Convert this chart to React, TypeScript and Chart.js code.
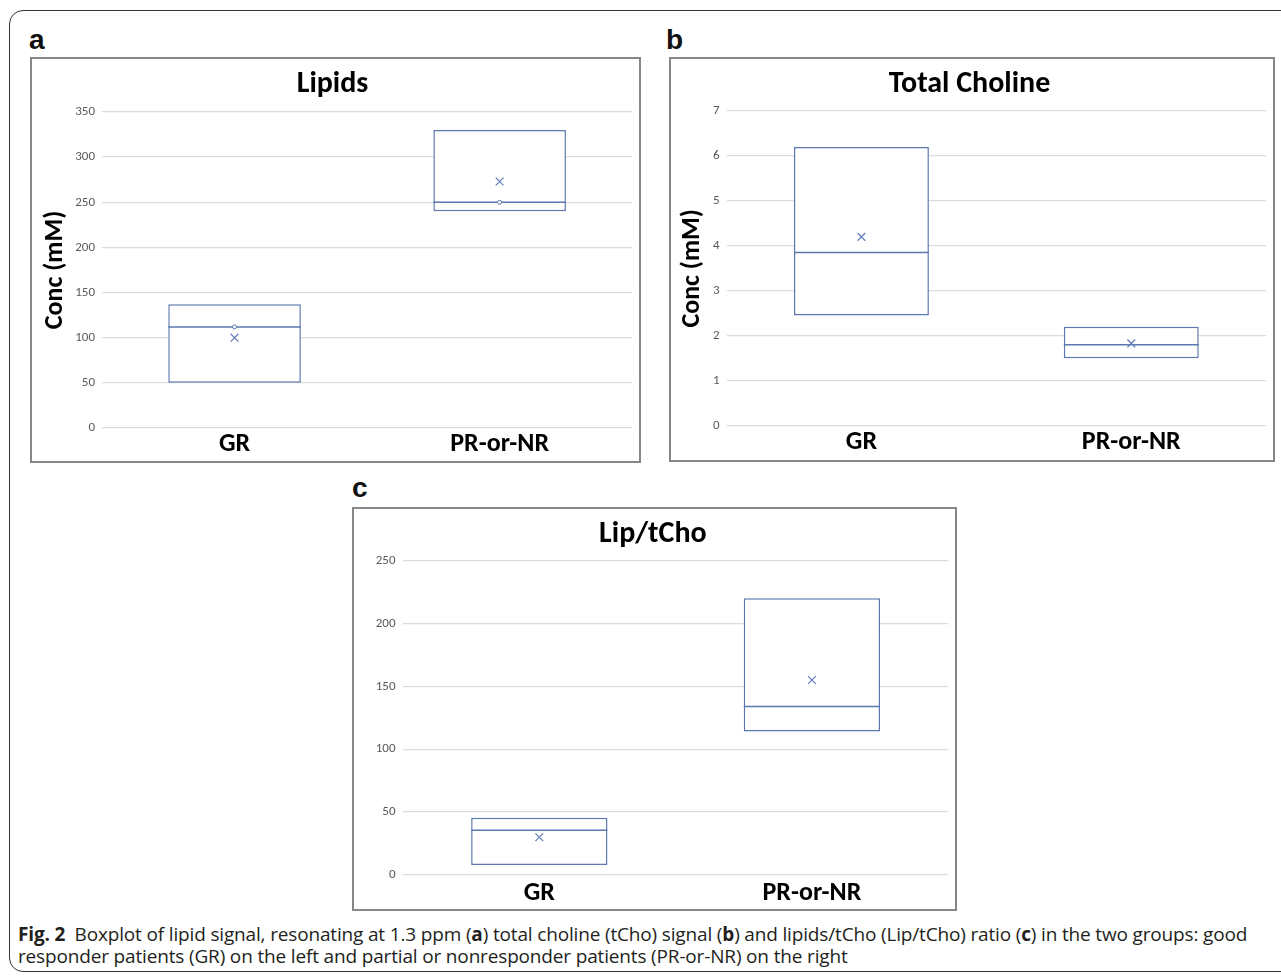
import React, { useEffect, useRef } from 'react';
import { Chart, registerables } from 'chart.js';
Chart.register(...registerables);

// ---------- data ----------
const categories = ['GR', 'PR-or-NR'];

// Panel a: Lipids
const lipidsQ1 = [50, 240];
const lipidsQ3 = [137, 330];
const lipidsMedian = [112, 250];
const lipidsMean = [100, 273];
const lipidsMax = 350;
const lipidsStep = 50;

// Panel b: Total Choline
const cholineQ1 = [2.45, 1.5];
const cholineQ3 = [6.2, 2.2];
const cholineMedian = [3.85, 1.8];
const cholineMean = [4.2, 1.83];
const cholineMax = 7;
const cholineStep = 1;

// Panel c: Lip/tCho
const ratioQ1 = [8, 114];
const ratioQ3 = [45.5, 220];
const ratioMedian = [35.5, 134];
const ratioMean = [30, 155];
const ratioMax = 250;
const ratioStep = 50;

const FONT = "Carlito, 'Open Sans', sans-serif";
const BOX_COLOR = '#5b77ae';
const MEAN_COLOR = '#6580bb';

const medianPlugin = {
  id: 'medianLines',
  afterDatasetDraw(chart: any, args: any, opts: any) {
    if (!opts || !opts.medians || args.meta.type !== 'bar') return;
    const ctx = chart.ctx;
    const yScale = chart.scales.y;
    ctx.save();
    ctx.strokeStyle = opts.color;
    ctx.lineWidth = opts.width;
    args.meta.data.forEach((bar: any, i: number) => {
      const { x, width } = bar.getProps(['x', 'width'], true);
      const py = yScale.getPixelForValue(opts.medians[i]);
      ctx.beginPath();
      ctx.moveTo(x - width / 2, py);
      ctx.lineTo(x + width / 2, py);
      ctx.stroke();
    });
    ctx.restore();
  },
};

type Geo = {
  left: number; top: number; width: number; height: number;
  yAxisW: number; padRight: number; titlePadTop: number; titlePadBottom: number;
  xAxisH: number; xTickPad: number; yTickPad: number; yTitlePad: number;
};

function BoxPanel(props: {
  title: string; q1: number[]; q3: number[]; median: number[]; mean: number[];
  max: number; step: number; yTitle?: string; medianDots?: boolean; geo: Geo;
}) {
  const ref = useRef<HTMLCanvasElement>(null);
  const { geo } = props;
  useEffect(() => {
    if (!ref.current) return;
    const datasets: any[] = [
      {
        type: 'line',
        data: props.mean,
        showLine: false,
        pointStyle: 'crossRot',
        pointRadius: 5.5,
        borderColor: MEAN_COLOR,
        backgroundColor: MEAN_COLOR,
        pointBorderWidth: 1.3,
        order: 1,
      },
      {
        type: 'bar',
        data: categories.map((_, i) => [props.q1[i], props.q3[i]]),
        backgroundColor: '#ffffff',
        borderColor: BOX_COLOR,
        borderWidth: 1.5,
        borderSkipped: false,
        barPercentage: 1,
        categoryPercentage: 0.5,
        order: 3,
      },
    ];
    if (props.medianDots) {
      datasets.unshift({
        type: 'line',
        data: props.median,
        showLine: false,
        pointStyle: 'circle',
        pointRadius: 2,
        borderColor: BOX_COLOR,
        backgroundColor: '#ffffff',
        pointBorderWidth: 1,
        order: 0,
      });
    }
    const chart = new Chart(ref.current, {
      type: 'bar',
      data: { labels: categories, datasets },
      plugins: [medianPlugin],
      options: {
        animation: false,
        responsive: true,
        maintainAspectRatio: false,
        layout: { padding: { left: 0, right: geo.padRight, top: 0, bottom: 0 } },
        plugins: {
          legend: { display: false },
          tooltip: { enabled: false },
          title: {
            display: true,
            text: props.title,
            color: '#000000',
            font: { family: FONT, size: 30, weight: 'bold' },
            padding: { top: geo.titlePadTop, bottom: geo.titlePadBottom },
          },
          medianLines: { medians: props.median, color: BOX_COLOR, width: 1.5 },
        } as any,
        scales: {
          x: {
            grid: { display: false, drawTicks: false },
            border: { display: false },
            ticks: {
              color: '#000000',
              font: { family: FONT, size: 26, weight: 'bold' },
              padding: geo.xTickPad,
            },
            afterFit: (s: any) => { s.height = geo.xAxisH; },
          },
          y: {
            min: 0,
            max: props.max,
            ticks: {
              stepSize: props.step,
              color: '#595959',
              font: { family: FONT, size: 13 },
              padding: geo.yTickPad,
            },
            grid: { color: '#dcdcdc', lineWidth: 1.3, drawTicks: false },
            border: { display: false },
            title: props.yTitle
              ? {
                  display: true,
                  text: props.yTitle,
                  color: '#000000',
                  font: { family: FONT, size: 26, weight: 'bold' },
                  padding: { top: geo.yTitlePad, bottom: 0 },
                }
              : { display: false },
            afterFit: (s: any) => { s.width = geo.yAxisW; },
          },
        } as any,
      },
    });
    return () => chart.destroy();
  }, []);
  return (
    <div
      style={{
        position: 'absolute',
        left: geo.left,
        top: geo.top,
        width: geo.width,
        height: geo.height,
        boxSizing: 'border-box',
        border: '2px solid #868686',
        background: '#fff',
      }}
    >
      <div style={{ position: 'relative', width: geo.width - 4, height: geo.height - 4 }}>
        <canvas ref={ref} />
      </div>
    </div>
  );
}

const panelLabel: React.CSSProperties = {
  position: 'absolute',
  fontFamily: "'Liberation Sans', Arial, sans-serif",
  fontWeight: 'bold',
  fontSize: 28,
  lineHeight: '28px',
  color: '#111',
};

export default function App() {
  useEffect(() => {
    document.body.style.margin = '0';
  }, []);
  return (
    <div
      style={{
        position: 'absolute',
        left: 0,
        top: 0,
        width: 1281,
        height: 977,
        overflow: 'hidden',
        background: '#fff',
      }}
    >
      <div
        style={{
          position: 'absolute',
          left: 9,
          top: 10,
          width: 1320,
          height: 962,
          boxSizing: 'border-box',
          border: '1.5px solid #333',
          borderRadius: 14,
        }}
      />
      <div style={{ ...panelLabel, left: 29, top: 26 }}>a</div>
      <div style={{ ...panelLabel, left: 666, top: 26 }}>b</div>
      <div style={{ ...panelLabel, left: 352, top: 474 }}>c</div>

      <BoxPanel
        title="Lipids"
        q1={lipidsQ1}
        q3={lipidsQ3}
        median={lipidsMedian}
        mean={lipidsMean}
        max={lipidsMax}
        step={lipidsStep}
        yTitle="Conc (mM)"
        medianDots
        geo={{
          left: 30, top: 57, width: 611, height: 406,
          yAxisW: 70, padRight: 6, titlePadTop: 7, titlePadBottom: 10,
          xAxisH: 33, xTickPad: 1, yTickPad: 7, yTitlePad: 8,
        }}
      />
      <BoxPanel
        title="Total Choline"
        q1={cholineQ1}
        q3={cholineQ3}
        median={cholineMedian}
        mean={cholineMean}
        max={cholineMax}
        step={cholineStep}
        yTitle="Conc (mM)"
        geo={{
          left: 669, top: 57, width: 606, height: 405,
          yAxisW: 55.5, padRight: 5, titlePadTop: 7, titlePadBottom: 9,
          xAxisH: 34.3, xTickPad: 1, yTickPad: 7, yTitlePad: 6,
        }}
      />
      <BoxPanel
        title="Lip/tCho"
        q1={ratioQ1}
        q3={ratioQ3}
        median={ratioMedian}
        mean={ratioMean}
        max={ratioMax}
        step={ratioStep}
        geo={{
          left: 352, top: 507, width: 605, height: 404,
          yAxisW: 49, padRight: 3.3, titlePadTop: 7, titlePadBottom: 8.5,
          xAxisH: 34, xTickPad: 3, yTickPad: 7.5, yTitlePad: 0,
        }}
      />

      <div
        style={{
          position: 'absolute',
          left: 18,
          top: 923,
          whiteSpace: 'nowrap',
          fontFamily: "'Open Sans', sans-serif",
          fontSize: 19,
          letterSpacing: '-0.16px',
          lineHeight: '22px',
          color: '#231f20',
        }}
      >
        <div>
          <b>Fig. 2</b>{'\u2002'}Boxplot of lipid signal, resonating at 1.3 ppm (<b>a</b>) total choline (tCho) signal (<b>b</b>) and lipids/tCho (Lip/tCho) ratio (<b>c</b>) in the two groups: good
        </div>
        <div>
          responder patients (GR) on the left and partial or nonresponder patients (PR-or-NR) on the right
        </div>
      </div>
    </div>
  );
}
